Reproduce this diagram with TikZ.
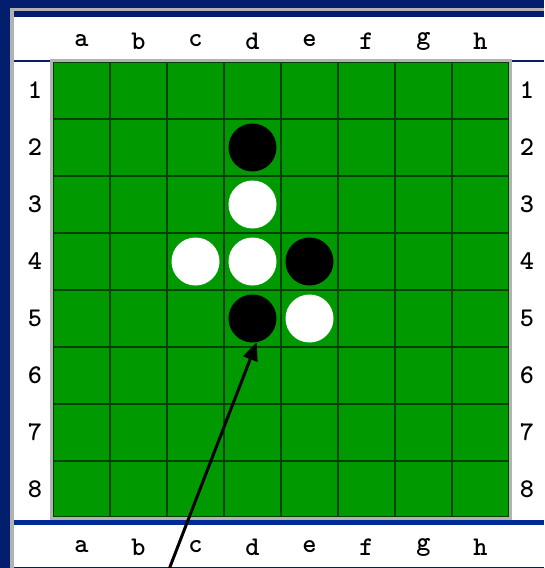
\documentclass[tikz,border=0pt]{standalone}
\usetikzlibrary{arrows.meta}
\definecolor{navy}{RGB}{4,30,110}
\definecolor{bandblue}{RGB}{0,42,150}
\definecolor{framegray}{RGB}{178,178,178}
\definecolor{boardgreen}{RGB}{0,153,0}
\definecolor{gridgreen}{RGB}{0,66,0}
\tikzset{
  lbl/.style={font=\ttfamily\bfseries\fontsize{27}{27}\selectfont, inner sep=0pt, anchor=center},
  blackpiece/.style={circle, fill=black, minimum size=48pt, inner sep=0pt},
  whitepiece/.style={circle, fill=white, minimum size=48pt, inner sep=0pt},
  pointer/.style={line width=3pt, -{Triangle[length=18pt,width=15pt]}},
  gridline/.style={gridgreen, line width=2.8pt}
}
\begin{document}
\begin{tikzpicture}[x=1pt,y=-1pt]
\useasboundingbox (0,0) rectangle (544,568);
\clip (0,0) rectangle (544,568);
\fill[white] (0,0) rectangle (544,568);
% frame
\fill[navy] (0,0) rectangle (544,8);
\fill[framegray] (10,8) rectangle (544,11);
\fill[navy] (14,11) rectangle (544,17);
\fill[navy] (0,0) rectangle (10,568);
\fill[framegray] (10,8) rectangle (14,568);
\fill[navy] (14,60) rectangle (52,62);
\fill[navy] (508,60) rectangle (544,62);
% board
\fill[framegray] (50,59) rectangle (512,520);
\fill[boardgreen] (53,62) rectangle (509,517);
\foreach \k in {1,...,7}{
  \draw[gridline] ({53+57*\k},62) -- ({53+57*\k},517);
  \draw[gridline] (53,{62+57*\k}) -- (509,{62+57*\k});
}
\draw[gridgreen, line width=1pt] (53.5,62.5) rectangle (508.5,516.5);
\fill[bandblue] (14,520) rectangle (544,525);
\fill[navy] (14,566.5) rectangle (544,568);
% labels
\foreach \c [count=\i from 0] in {a,b,c,d,e,f,g,h}{
  \node[lbl] (top\c) at ({53+57*(\i+0.5)},41) {\c};
  \node[lbl] (bot\c) at ({53+57*(\i+0.5)},547) {\c};
}
\foreach \r in {1,...,8}{
  \node[lbl] (left\r) at (35,{62+57*(\r-0.5)}) {\r};
  \node[lbl] (right\r) at (527,{62+57*(\r-0.5)}) {\r};
}
% pieces
\node[blackpiece] (d2) at (252.5,147.5) {};
\node[whitepiece] (d3) at (252.5,204.5) {};
\node[whitepiece] (c4) at (195.5,261.5) {};
\node[whitepiece] (d4) at (252.5,261.5) {};
\node[blackpiece] (e4) at (309.5,261.5) {};
\node[blackpiece] (d5) at (252.5,318.5) {};
\node[whitepiece] (e5) at (309.5,318.5) {};
% arrow
\coordinate (start) at (168,572);
\draw[pointer] (start) -- (d5.280);
\end{tikzpicture}
\end{document}
